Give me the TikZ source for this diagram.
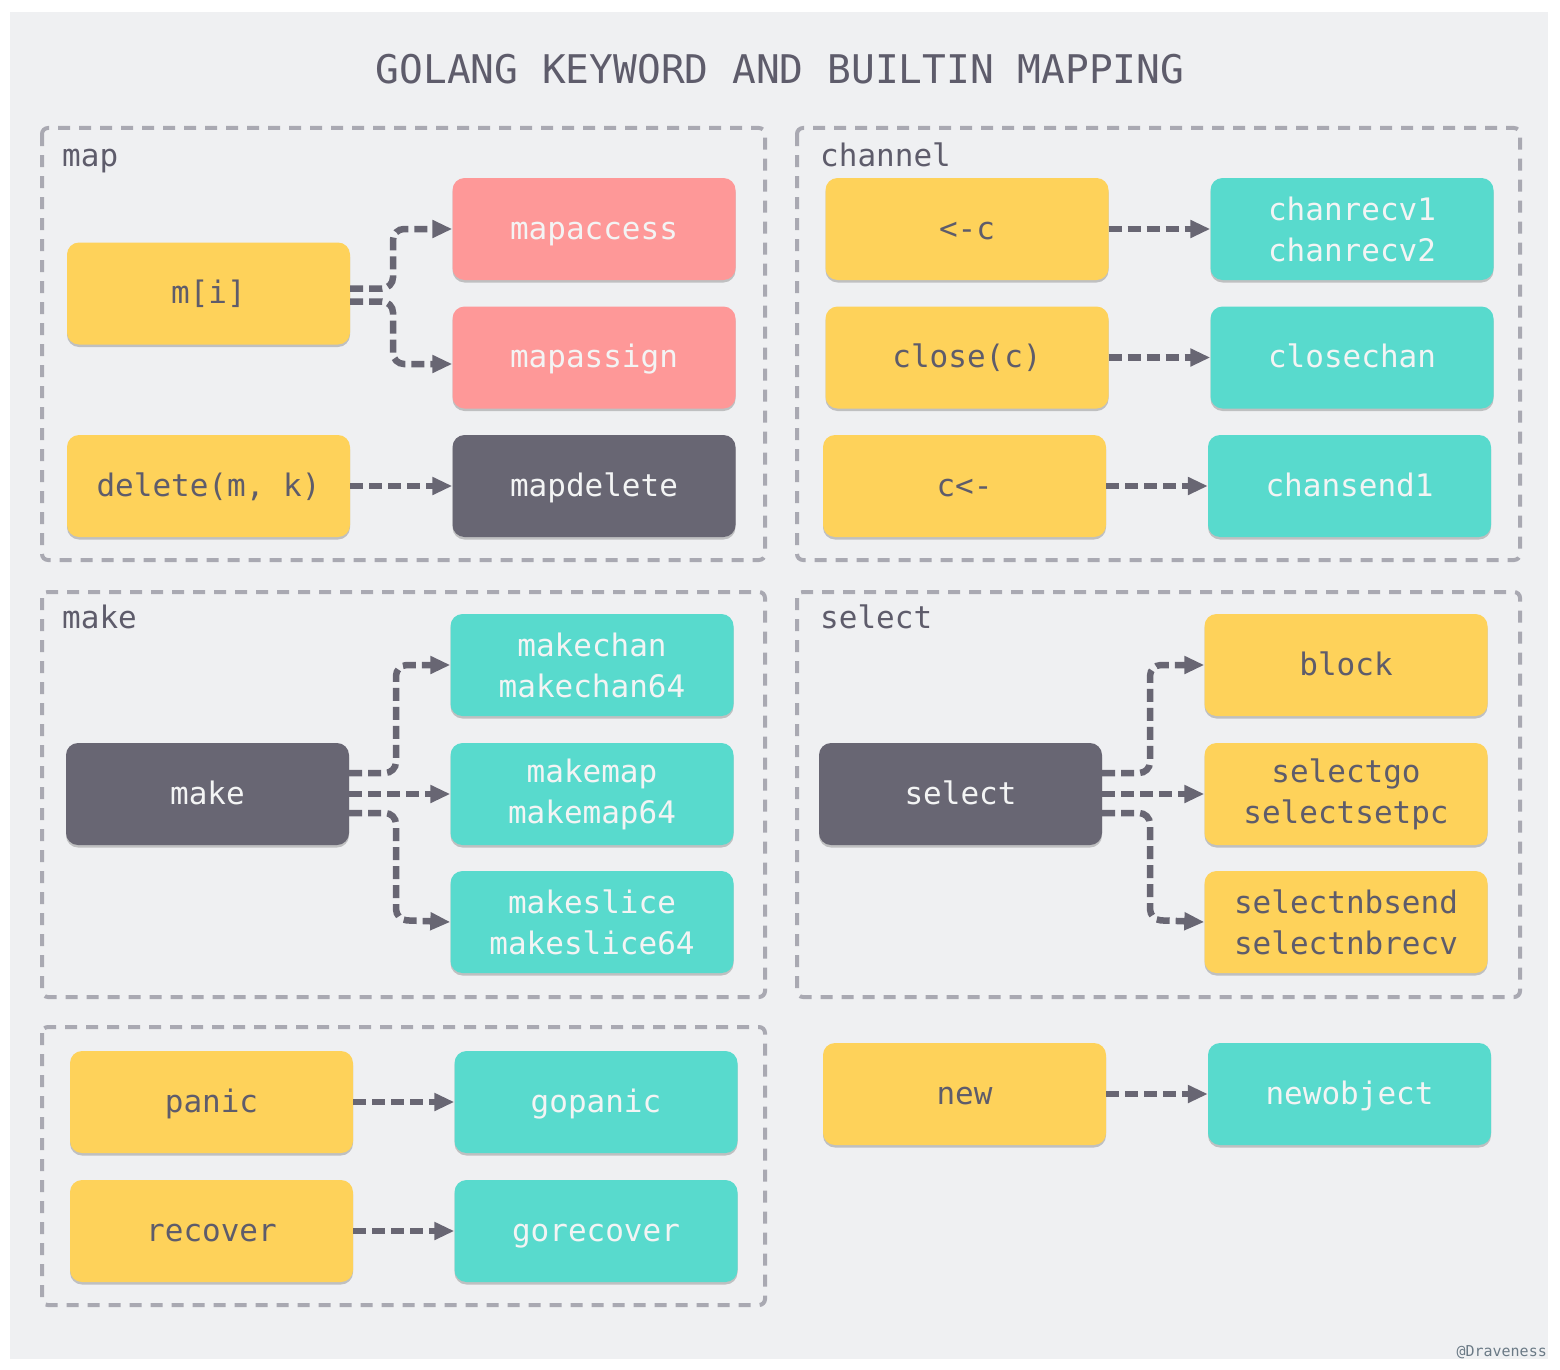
\documentclass[tikz,border=0pt]{standalone}
\usepackage{fontspec}
\usetikzlibrary{arrows.meta,shadows}
\newfontfamily\monofam{DejaVu Sans Mono}
\definecolor{bgc}{HTML}{EFF0F2}
\definecolor{yel}{HTML}{FED25A}
\definecolor{pnk}{HTML}{FE9898}
\definecolor{tea}{HTML}{58DACD}
\definecolor{drk}{HTML}{686673}
\definecolor{txd}{HTML}{5E5C6B}
\definecolor{txw}{HTML}{F3F4F4}
\definecolor{frm}{HTML}{A9A9B2}
\definecolor{sig}{HTML}{6B7A86}
\tikzset{
  box/.style={rounded corners=12pt, minimum width=283pt, minimum height=102pt, inner sep=0pt,
    align=center, font=\monofam\fontsize{31}{41}\selectfont,
    drop shadow={shadow xshift=0pt, shadow yshift=-2.5pt, opacity=0.2, fill=black}},
  one/.style={text height=25pt, text depth=5pt},
  ybox/.style={box, fill=yel, text=txd},
  pbox/.style={box, fill=pnk, text=txw},
  tbox/.style={box, fill=tea, text=txw},
  dbox/.style={box, fill=drk, text=txw},
  frame/.style={draw=frm, line width=4pt, dash pattern=on 12pt off 9pt, rounded corners=6pt},
  glabel/.style={anchor=base west, inner sep=0pt, text=txd, font=\monofam\fontsize{31}{31}\selectfont},
  conn/.style={draw=drk, line width=6.5pt, dash pattern=on 13pt off 6pt, rounded corners=11pt,
    -{Triangle[length=20pt,width=17pt]}},
}
\begin{document}
\begin{tikzpicture}[x=1pt,y=-1pt]
\useasboundingbox (0,0) rectangle (1560,1370);
\fill[white] (0,0) rectangle (1560,1370);
\fill[bgc] (10,12) rectangle (1548,1359);

\node[anchor=base, inner sep=0pt, text=txd, font=\monofam\fontsize{39.5}{40}\selectfont] (title) at (780,84) {GOLANG KEYWORD AND BUILTIN MAPPING};

% frames
\draw[frame] (42,128) rectangle (765,560);
\draw[frame] (797,128) rectangle (1520,560);
\draw[frame] (42,592) rectangle (765,997);
\draw[frame] (797,592) rectangle (1520,997);
\draw[frame] (42,1027) rectangle (765,1305);

\node[glabel] (lmap) at (62,166) {map};
\node[glabel] (lchan) at (820,166) {channel};
\node[glabel] (lmake) at (62,628) {make};
\node[glabel] (lsel) at (820,628) {select};

% map
\node[ybox,one] (mi) at (208.5,293.5) {m[i]};
\node[pbox,one] (ma) at (594,229) {mapaccess};
\node[pbox,one] (ms) at (594,357.5) {mapassign};
\node[ybox,one] (del) at (208.5,486) {delete(m, k)};
\node[dbox,one] (md) at (594,486) {mapdelete};

% channel
\node[ybox,one] (rc) at (967,229) {<-c};
\node[tbox] (cr) at (1352,229) {chanrecv1\\chanrecv2};
\node[ybox,one] (cl) at (967,357.5) {close(c)};
\node[tbox,one] (cc) at (1352,357.5) {closechan};
\node[ybox,one] (sc) at (964.5,486) {c<-};
\node[tbox,one] (cs) at (1349.5,486) {chansend1};

% make
\node[dbox,one] (mk) at (207.5,794) {make};
\node[tbox] (mc) at (592,665) {makechan\\makechan64};
\node[tbox] (mm) at (592,794) {makemap\\makemap64};
\node[tbox] (msl) at (592,922) {makeslice\\makeslice64};

% select
\node[dbox,one] (sel) at (960.5,794) {select};
\node[ybox,one] (blk) at (1346,665) {block};
\node[ybox] (sg) at (1346,794) {selectgo\\selectsetpc};
\node[ybox] (snb) at (1346,922) {selectnbsend\\selectnbrecv};

% panic / recover
\node[ybox,one] (pn) at (211.5,1102) {panic};
\node[tbox,one] (gp) at (596,1102) {gopanic};
\node[ybox,one] (rv) at (211.5,1231) {recover};
\node[tbox,one] (gr) at (596,1231) {gorecover};

% new
\node[ybox,one] (nw) at (964.5,1094) {new};
\node[tbox,one] (no) at (1349.5,1094) {newobject};

\node[anchor=base east, inner sep=0pt, text=sig, font=\monofam\fontsize{15}{15}\selectfont] (sig) at (1547,1356) {@Draveness};

% connectors
\draw[conn] ([yshift=5pt]mi.east) -| (393,229) -- (ma.west);
\draw[conn] ([yshift=-8pt]mi.east) -| (393,364) -- ([yshift=-6.5pt]ms.west);
\draw[conn] (del) -- (md);
\draw[conn] (rc) -- (cr);
\draw[conn] (cl) -- (cc);
\draw[conn] (sc) -- (cs);
\draw[conn] ([yshift=21pt]mk.east) -| (396,665) -- (mc.west);
\draw[conn] (mk.east) -- (mm.west);
\draw[conn] ([yshift=-19pt]mk.east) -| (396,920) -- (msl.west);
\draw[conn] ([yshift=21pt]sel.east) -| (1150,665) -- (blk.west);
\draw[conn] (sel.east) -- (sg.west);
\draw[conn] ([yshift=-19pt]sel.east) -| (1150,920) -- (snb.west);
\draw[conn] (pn) -- (gp);
\draw[conn] (rv) -- (gr);
\draw[conn] (nw) -- (no);
\end{tikzpicture}
\end{document}
